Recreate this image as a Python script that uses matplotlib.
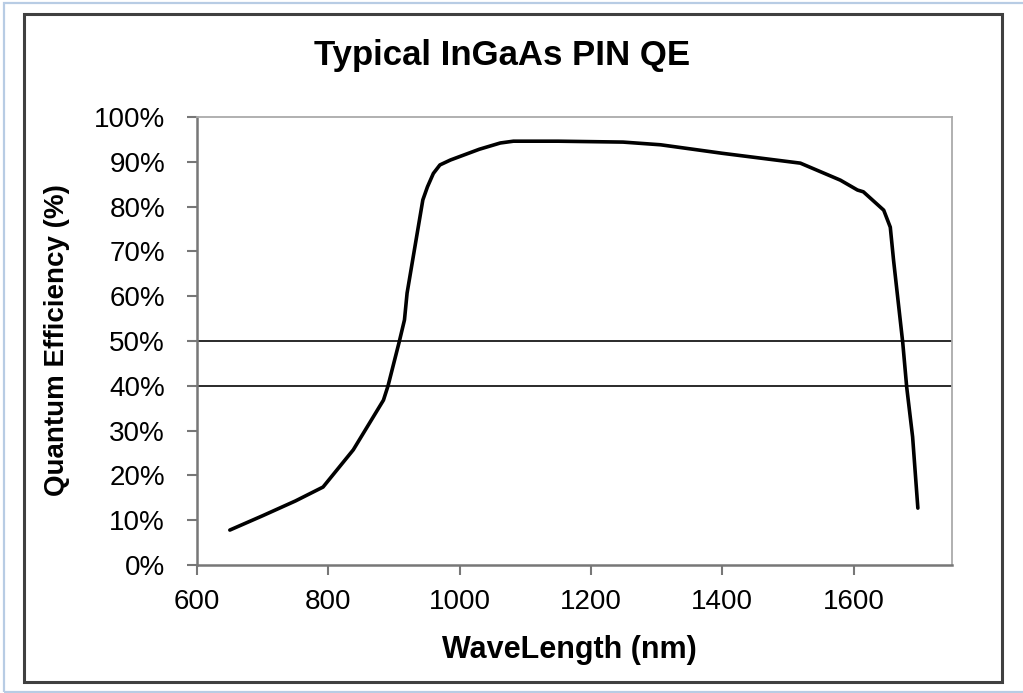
import numpy as np
import matplotlib
matplotlib.use('Agg')
import matplotlib.pyplot as plt
from matplotlib.patches import Rectangle

plt.rcParams['font.family'] = ['Liberation Sans', 'DejaVu Sans']

# curve
wavelength = [650, 700, 750, 792, 838, 884, 891, 908, 916, 920, 944, 951,
              960, 970, 986, 1030, 1062, 1082, 1150, 1249, 1306, 1400, 1519,
              1580, 1606, 1615, 1646, 1656, 1661, 1675, 1681, 1690, 1698]
qe = [7.8, 11.0, 14.3, 17.4, 25.7, 36.8, 40.0, 49.8, 54.7, 60.7, 81.5, 84.4,
      87.4, 89.3, 90.4, 92.8, 94.2, 94.6, 94.6, 94.4, 93.8, 91.9, 89.7,
      85.9, 83.7, 83.3, 79.2, 75.4, 68.0, 49.6, 39.7, 28.6, 12.7]
ref_levels = [40, 50]
xticks = [600, 800, 1000, 1200, 1400, 1600]
yticks = list(range(0, 101, 10))

W, H = 1023, 693
fig = plt.figure(figsize=(W / 100, H / 100), dpi=100)
ax = fig.add_axes([197 / W, 1 - 565 / H, (952 - 197) / W, (565 - 117) / H])

ax.plot(wavelength, qe, color='black', lw=2.6, solid_capstyle='round',
        solid_joinstyle='round', zorder=3)
for lvl in ref_levels:
    ax.axhline(lvl, color='#2a2a2a', lw=1.4, zorder=2)

ax.set_xlim(600, 1750)
ax.set_ylim(0, 100)
ax.set_xticks(xticks)
ax.set_yticks(yticks)
ax.set_yticklabels(['%d%%' % v for v in yticks])

for s in ['left', 'bottom']:
    ax.spines[s].set_color('#777777')
    ax.spines[s].set_linewidth(1.8)
for s in ['top', 'right']:
    ax.spines[s].set_color('#aaaaaa')
    ax.spines[s].set_linewidth(1.3)
ax.tick_params(axis='both', direction='out', length=7, width=1.5,
               color='#777777', labelsize=20)
ax.tick_params(axis='y', pad=16)
ax.tick_params(axis='x', pad=10)

ax.set_xlabel('WaveLength (nm)', fontsize=22, fontweight='bold')
ax.xaxis.set_label_coords((569 - 197) / (952 - 197), -(650 - 565) / (565 - 117))
ax.set_ylabel('Quantum Efficiency (%)', fontsize=20, fontweight='bold')
ax.yaxis.set_label_coords(-(197 - 57) / (952 - 197), (565 - 340) / (565 - 117))
ax.xaxis.label.set_va('center')
ax.yaxis.label.set_va('center')

fig.text(502 / W, 1 - 55 / H, 'Typical InGaAs PIN QE', fontsize=25,
         fontweight='bold', ha='center', va='center')

# outer frames
fig.patches.append(Rectangle((4 / W, 1 / H), 1.2, 1 - 4 / H, transform=fig.transFigure,
                             fill=False, edgecolor='#b8cce4', lw=1.6))
fig.patches.append(Rectangle((24 / W, 1 - 682 / H), (1002 - 24) / W, (682 - 14) / H,
                             transform=fig.transFigure, fill=False,
                             edgecolor='#404040', lw=2.2))

fig.savefig('out.png', dpi=100)
